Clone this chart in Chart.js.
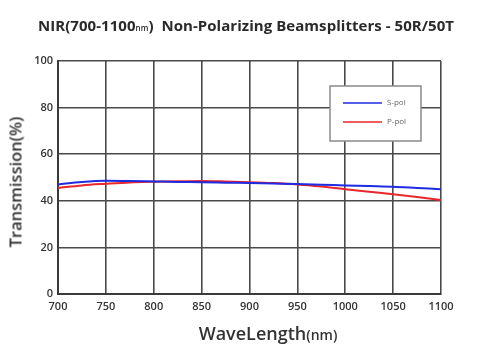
<!DOCTYPE html>
<html>
<head>
<meta charset="utf-8">
<script src="https://cdn.jsdelivr.net/npm/chart.js@4.4.1/dist/chart.umd.min.js"></script>
<style>
  html, body { margin: 0; padding: 0; background: #fff; }
  #wrap { position: relative; width: 492px; height: 358px; overflow: hidden; }
  canvas { position: absolute; left: 0; top: 0; }
  .t { position: absolute; white-space: nowrap; color: #2a2a2a; font-family: "Open Sans", sans-serif; }
  #title { left: 0; width: 492px; top: 15px; text-align: center; font-weight: 700; font-size: 15px; letter-spacing: 0.05px; }
  #title small { font-size: 8px; font-weight: 600; }
  #xt { left: 268px; top: 321px; transform: translateX(-50%); font-weight: 600; font-size: 18px; color: #333; }
  #xt small { font-size: 14px; }
  #yt { left: 15px; top: 182px; transform: translate(-50%, -50%) rotate(-90deg); font-weight: 600; font-size: 16.5px; color: #333; }
</style>
</head>
<body>
<div id="wrap">
  <canvas id="c" width="492" height="358"></canvas>
  <div id="title" class="t">NIR(700-1100<small>nm</small>)&nbsp; Non-Polarizing Beamsplitters - 50R/50T</div>
  <div id="xt" class="t">WaveLength<small>(nm)</small></div>
  <div id="yt" class="t">Transmission(%)</div>
</div>
<script>
const wavelengths = [700, 725, 750, 775, 800, 825, 850, 875, 900, 925, 950, 975, 1000, 1025, 1050, 1075, 1100];
const sPol = [47.0, 48.1, 48.6, 48.5, 48.3, 48.1, 48.0, 47.8, 47.6, 47.4, 47.2, 46.9, 46.6, 46.3, 46.0, 45.5, 45.0];
const pPol = [45.5, 46.6, 47.3, 47.9, 48.2, 48.4, 48.5, 48.3, 48.0, 47.6, 47.0, 46.1, 45.0, 43.9, 42.8, 41.6, 40.3];
const xTicks = [700, 750, 800, 850, 900, 950, 1000, 1050, 1100];
const yTicks = [0, 20, 40, 60, 80, 100];
const seriesNames = ['S-pol', 'P-pol'];
const seriesColors = ['#1e2be0', '#e8262b'];

const legendPlugin = {
  id: 'boxLegend',
  afterDraw(chart) {
    const ctx = chart.ctx;
    const x = 330, y = 86, w = 91, h = 55;
    ctx.save();
    ctx.fillStyle = '#fff';
    ctx.fillRect(x, y, w, h);
    ctx.strokeStyle = '#8a8a8a';
    ctx.lineWidth = 1.5;
    ctx.strokeRect(x, y, w, h);
    chart.data.datasets.forEach((ds, i) => {
      const ly = 103 + i * 19;
      ctx.strokeStyle = ds.borderColor;
      ctx.lineWidth = 1.5;
      ctx.beginPath();
      ctx.moveTo(343, ly);
      ctx.lineTo(382, ly);
      ctx.stroke();
      ctx.fillStyle = '#666';
      ctx.font = '8px "Open Sans", sans-serif';
      ctx.textBaseline = 'middle';
      ctx.fillText(ds.label, 387, ly);
    });
    ctx.restore();
  }
};

const tickFont = { family: '"Open Sans", sans-serif', weight: '600', size: 11 };

new Chart(document.getElementById('c'), {
  type: 'line',
  data: {
    datasets: [
      { label: seriesNames[0], data: wavelengths.map((w, i) => ({ x: w, y: sPol[i] })), borderColor: seriesColors[0], borderWidth: 2, pointRadius: 0, cubicInterpolationMode: 'monotone' },
      { label: seriesNames[1], data: wavelengths.map((w, i) => ({ x: w, y: pPol[i] })), borderColor: seriesColors[1], borderWidth: 2, pointRadius: 0, cubicInterpolationMode: 'monotone' }
    ]
  },
  options: {
    responsive: false,
    animation: false,
    events: [],
    layout: { padding: { left: 0, top: 61, right: 51, bottom: 0 } },
    plugins: { legend: { display: false }, tooltip: { enabled: false }, title: { display: false } },
    scales: {
      x: {
        type: 'linear', min: 700, max: 1100,
        afterFit(s) { s.height = 64; },
        afterBuildTicks(s) { s.ticks = xTicks.map(v => ({ value: v })); },
        grid: { color: '#4a4a4a', lineWidth: 1.6, drawTicks: false },
        border: { color: '#3a3a3a', width: 2 },
        ticks: { padding: 6, maxRotation: 0, autoSkip: false, color: '#333', font: tickFont, callback: v => String(v) }
      },
      y: {
        min: 0, max: 100,
        afterFit(s) { s.width = 58; },
        afterBuildTicks(s) { s.ticks = yTicks.map(v => ({ value: v })); },
        grid: { color: '#4a4a4a', lineWidth: 1.6, drawTicks: false },
        border: { color: '#3a3a3a', width: 2 },
        ticks: { padding: 5, color: '#333', font: tickFont, callback: v => String(v) }
      }
    }
  },
  plugins: [legendPlugin]
});
</script>
</body>
</html>
